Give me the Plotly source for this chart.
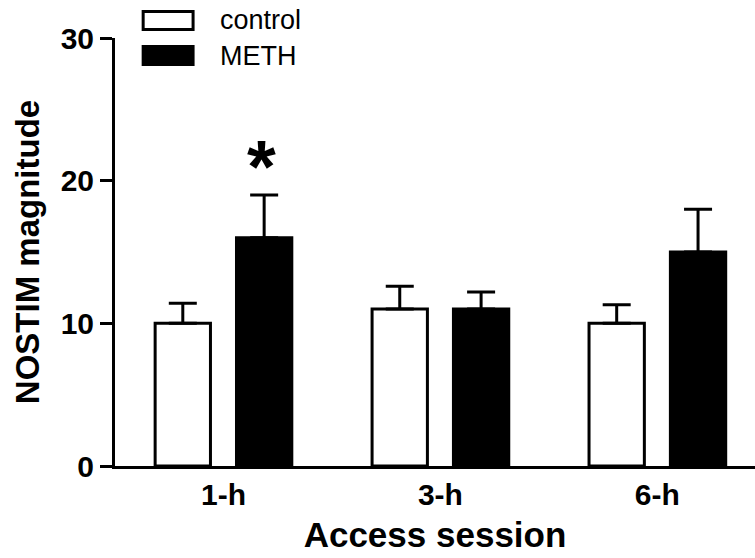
import plotly.graph_objects as go

sessions = ["1-h", "3-h", "6-h"]
control_vals = [10, 11, 10]
control_err = [1.4, 1.6, 1.3]
meth_vals = [16, 11, 15]
meth_err = [3.0, 1.2, 3.0]
y_ticks = [0, 10, 20, 30]

FONT = "Arial, Liberation Sans, sans-serif"

fig = go.Figure()
fig.add_trace(go.Bar(
    x=sessions, y=control_vals, name="control",
    marker=dict(color="white", line=dict(color="black", width=3)),
    error_y=dict(type="data", array=control_err, arrayminus=[0]*3, symmetric=False,
                 color="black", thickness=3, width=14),
    showlegend=False,
))
fig.add_trace(go.Bar(
    x=sessions, y=meth_vals, name="METH",
    marker=dict(color="black", line=dict(color="black", width=3)),
    error_y=dict(type="data", array=meth_err, arrayminus=[0]*3, symmetric=False,
                 color="black", thickness=3, width=14),
    showlegend=False,
))

fig.update_layout(
    width=755, height=558,
    margin=dict(l=115, r=0, t=38, b=92),
    plot_bgcolor="white", paper_bgcolor="white",
    barmode="group", bargap=0.25, bargroupgap=0.32,
    font=dict(family=FONT, color="black"),
)
fig.update_xaxes(
    range=[-0.5, 2.45],
    showline=True, linecolor="black", linewidth=3,
    ticks="", showgrid=False, zeroline=False,
    tickfont=dict(size=30, family=FONT, weight="bold"),
    title=dict(text="<b>Access session</b>", font=dict(size=35, family=FONT), standoff=13),
    automargin=False,
)
fig.update_yaxes(
    range=[0, 30], tickvals=y_ticks,
    showline=True, linecolor="black", linewidth=3,
    ticks="outside", ticklen=12, tickwidth=3, tickcolor="black",
    showgrid=False, zeroline=False,
    tickfont=dict(size=30, family=FONT, weight="bold"),
    title=dict(text="<b>NOSTIM magnitude</b>", font=dict(size=33, family=FONT), standoff=12),
    automargin=False,
)

# significance marker
fig.add_annotation(x="1-h", y=21.0, xshift=38, text="<b>*</b>", showarrow=False,
                   font=dict(size=74, family=FONT, color="black"), yanchor="middle")

# legend drawn as shapes + text
fig.add_shape(type="rect", xref="paper", yref="paper", x0=0.044, x1=0.122, y0=1.020, y1=1.062,
              line=dict(color="black", width=3), fillcolor="white")
fig.add_shape(type="rect", xref="paper", yref="paper", x0=0.044, x1=0.122, y0=0.938, y1=0.980,
              line=dict(color="black", width=3), fillcolor="black")
fig.add_annotation(xref="paper", yref="paper", x=0.161, y=1.041, text="control", showarrow=False,
                   xanchor="left", yanchor="middle", font=dict(size=27, family=FONT, color="black"))
fig.add_annotation(xref="paper", yref="paper", x=0.161, y=0.959, text="METH", showarrow=False,
                   xanchor="left", yanchor="middle", font=dict(size=27, family=FONT, color="black"))

fig.write_html("out.html", config={"displayModeBar": False},
               post_script="document.body.style.margin='0';")
